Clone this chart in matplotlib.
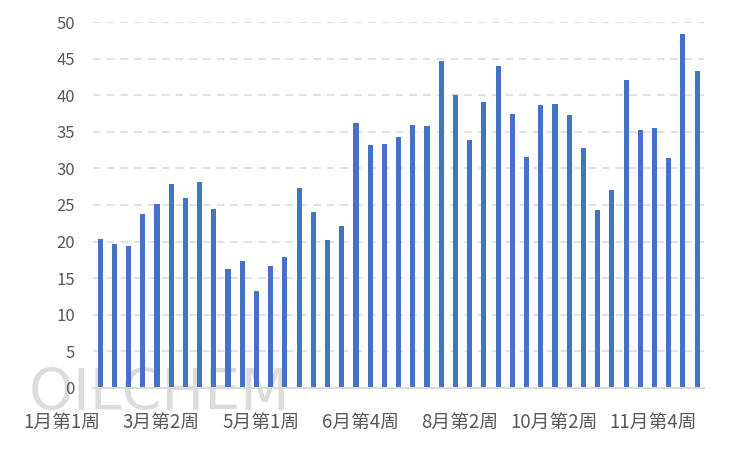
import numpy as np
import matplotlib.pyplot as plt

plt.rcParams['font.family'] = ['Noto Sans CJK SC', 'DejaVu Sans']

# weekly values
values = [20.4, 19.7, 19.4, 23.7, 25.1, 27.8, 25.9, 28.1, 24.5, 16.3,
          17.3, 13.3, 16.6, 17.9, 27.3, 24.1, 20.2, 22.1, 36.2, 33.2,
          33.3, 34.3, 35.9, 35.8, 44.7, 40.0, 33.9, 39.1, 44.0, 37.5,
          31.5, 38.6, 38.75, 37.3, 32.8, 24.3, 27.1, 42.1, 35.2, 35.5,
          31.4, 48.4, 43.3]
tick_labels = ['1月第1周', '3月第2周', '5月第1周', '6月第4周',
               '8月第2周', '10月第2周', '11月第4周']
label_step = 7

x = np.arange(len(values))

fig = plt.figure(figsize=(7.5, 4.5), dpi=100)
ax = fig.add_axes([0.124, 0.138, 0.815, 0.813])

# watermark behind the plot
fig.text(0.038, 0.089, 'OILCHEM', fontsize=41, color='#dcdcdc',
         family='DejaVu Sans', zorder=-1)
ax.patch.set_alpha(0)

ax.bar(x, values, width=0.36, color='#4472C4', zorder=3)

ax.set_ylim(0, 50)
ax.set_xlim(-0.5, len(values) - 0.5)
ax.set_yticks(np.arange(0, 51, 5))
ax.yaxis.grid(True, color='#D9D9D9', linewidth=1.1, linestyle=(0, (5, 4)))
ax.set_axisbelow(True)

ax.set_xticks(x[::label_step])
ax.set_xticklabels(tick_labels, ha='right')
ax.tick_params(axis='x', length=0, pad=17, labelsize=13.5, colors='#595959')
ax.tick_params(axis='y', length=0, pad=13, labelsize=12, colors='#595959')

for side in ['left', 'right', 'top']:
    ax.spines[side].set_visible(False)
ax.spines['bottom'].set_color('#D9D9D9')
ax.spines['bottom'].set_linewidth(1.5)
ax.spines['bottom'].set_zorder(4)

fig.savefig('out.png', dpi=100)
